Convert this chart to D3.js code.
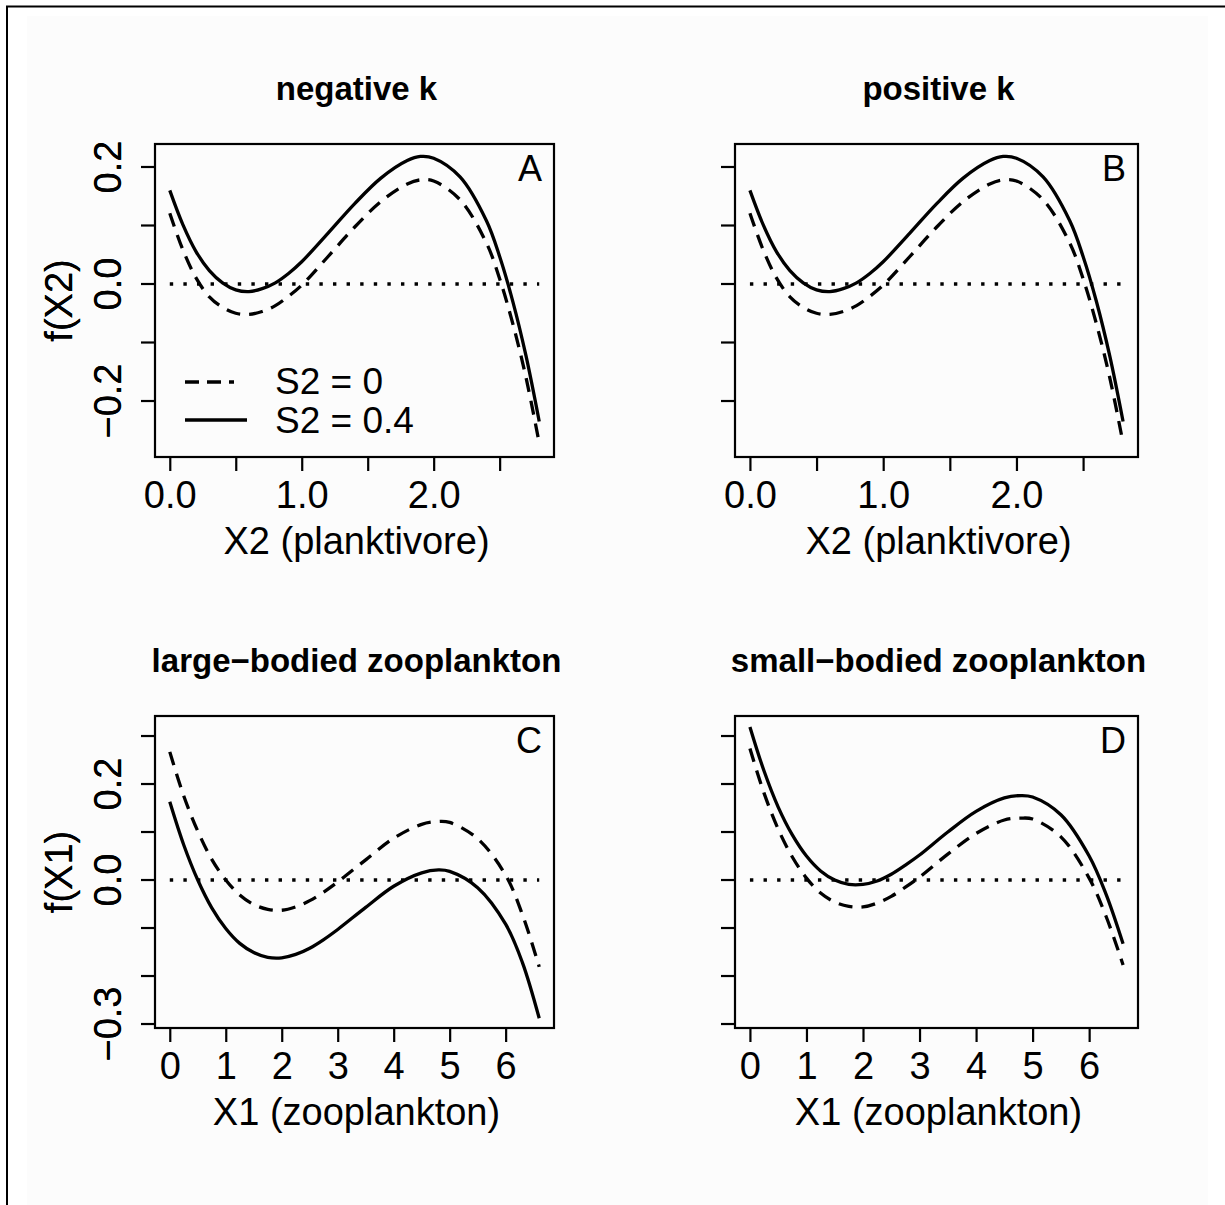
<!DOCTYPE html>
<html>
<meta charset="utf-8">
<style>
body { margin: 0; background: #fff; }
text { font-family: 'Liberation Sans', Arial, sans-serif; fill: #000; }
.title { font-weight: bold; font-size: 33px; }
.tick { font-size: 38px; }
.lab { font-size: 38px; }
.leg { font-size: 37px; }
</style>
<body>
<svg id="fig" width="1225" height="1205"></svg>
<script src="https://d3js.org/d3.v7.min.js"></script>
<script>

// ---- values ----
var xTop = [0, 0.1, 0.2, 0.3, 0.4, 0.5, 0.6, 0.7, 0.8, 0.9, 1.0, 1.2, 1.4, 1.6, 1.8, 1.9, 2.0, 2.2, 2.4, 2.5, 2.6, 2.7, 2.8];
var solidA  = [0.160, 0.101, 0.055, 0.023, 0.002, -0.010, -0.013, -0.008, 0.002, 0.018, 0.038, 0.087, 0.137, 0.181, 0.211, 0.218, 0.215, 0.183, 0.108, 0.047, -0.030, -0.123, -0.235];
var dashedA = [0.121, 0.058, 0.010, -0.022, -0.040, -0.050, -0.052, -0.047, -0.037, -0.021, -0.002, 0.047, 0.097, 0.141, 0.171, 0.178, 0.176, 0.144, 0.070, 0.009, -0.068, -0.160, -0.272];
var solidB  = [0.160, 0.101, 0.055, 0.023, 0.002, -0.010, -0.013, -0.008, 0.002, 0.018, 0.038, 0.087, 0.137, 0.181, 0.211, 0.218, 0.215, 0.183, 0.108, 0.047, -0.030, -0.123, -0.235];
var dashedB = [0.121, 0.058, 0.010, -0.022, -0.040, -0.050, -0.052, -0.047, -0.037, -0.021, -0.002, 0.047, 0.097, 0.141, 0.171, 0.178, 0.176, 0.144, 0.070, 0.009, -0.068, -0.160, -0.272];

var xBot = [0, 0.25, 0.5, 0.75, 1, 1.25, 1.5, 1.75, 2, 2.25, 2.5, 2.75, 3, 3.5, 4, 4.5, 4.8, 5, 5.5, 6, 6.3, 6.6];
var solidC  = [0.163, 0.073, 0.000, -0.058, -0.101, -0.132, -0.151, -0.161, -0.162, -0.155, -0.142, -0.124, -0.103, -0.057, -0.013, 0.015, 0.021, 0.018, -0.016, -0.092, -0.172, -0.288];
var dashedC = [0.267, 0.175, 0.102, 0.043, 0.000, -0.031, -0.051, -0.061, -0.063, -0.056, -0.043, -0.025, -0.004, 0.042, 0.087, 0.116, 0.122, 0.120, 0.086, 0.010, -0.072, -0.181];
var solidD  = [0.319, 0.227, 0.152, 0.094, 0.050, 0.019, 0.000, -0.009, -0.009, -0.002, 0.012, 0.031, 0.052, 0.100, 0.143, 0.171, 0.176, 0.173, 0.136, 0.050, -0.030, -0.133];
var dashedD = [0.274, 0.181, 0.106, 0.048, 0.004, -0.027, -0.046, -0.055, -0.056, -0.048, -0.034, -0.015, 0.006, 0.054, 0.097, 0.125, 0.129, 0.127, 0.090, 0.004, -0.076, -0.177];

var xTicksTop = [0, 0.5, 1, 1.5, 2, 2.5];
var xLabelsTop = ["0.0", "", "1.0", "", "2.0", ""];
var yTicksTop = [-0.2, -0.1, 0, 0.1, 0.2];
var yLabelsTop = ["\u22120.2", "", "0.0", "", "0.2"];
var xTicksBot = [0, 1, 2, 3, 4, 5, 6];
var xLabelsBot = ["0", "1", "2", "3", "4", "5", "6"];
var yTicksBot = [-0.3, -0.2, -0.1, 0, 0.1, 0.2, 0.3];
var yLabelsBot = ["\u22120.3", "", "", "0.0", "", "0.2", ""];

var titles = ["negative k", "positive k", "large\u2212bodied zooplankton", "small\u2212bodied zooplankton"];
var letters = ["A", "B", "C", "D"];
var legendLabels = ["S2 = 0", "S2 = 0.4"];

// ---- layout ----
var svg = d3.select("#fig");

svg.append("rect").attr("x", 27).attr("y", 16).attr("width", 1181).attr("height", 1189).attr("fill", "#fcfcfc");
svg.append("line").attr("x1", 6).attr("x2", 1225).attr("y1", 6.5).attr("y2", 6.5).attr("stroke", "#000").attr("stroke-width", 2);
svg.append("line").attr("x1", 7).attr("x2", 7).attr("y1", 6).attr("y2", 1205).attr("stroke", "#000").attr("stroke-width", 2);

var panels = [
  {left: 155, right: 554, top: 144, bottom: 457, xd: [-0.112, 2.912], yd: [-0.2957, 0.2393], xs: xTop, solid: solidA, dashed: dashedA,
   xt: xTicksTop, xl: xLabelsTop, yt: yTicksTop, yl: yLabelsTop, xlab: "X2 (planktivore)", ylab: "f(X2)", legend: true},
  {left: 735, right: 1138, top: 144, bottom: 457, xd: [-0.112, 2.912], yd: [-0.2957, 0.2393], xs: xTop, solid: solidB, dashed: dashedB,
   xt: xTicksTop, xl: xLabelsTop, yt: yTicksTop, yl: yLabelsTop, xlab: "X2 (planktivore)", ylab: "f(X2)"},
  {left: 155, right: 554, top: 716, bottom: 1028, xd: [-0.264, 6.864], yd: [-0.3083, 0.3417], xs: xBot, solid: solidC, dashed: dashedC,
   xt: xTicksBot, xl: xLabelsBot, yt: yTicksBot, yl: yLabelsBot, xlab: "X1 (zooplankton)", ylab: "f(X1)"},
  {left: 735, right: 1138, top: 716, bottom: 1028, xd: [-0.264, 6.864], yd: [-0.3083, 0.3417], xs: xBot, solid: solidD, dashed: dashedD,
   xt: xTicksBot, xl: xLabelsBot, yt: yTicksBot, yl: yLabelsBot, xlab: "X1 (zooplankton)", ylab: "f(X1)"}
];

panels.forEach(function(p, i) {
  var x = d3.scaleLinear().domain(p.xd).range([p.left, p.right]);
  var y = d3.scaleLinear().domain(p.yd).range([p.bottom, p.top]);
  var g = svg.append("g");

  // zero reference (dotted)
  g.append("line")
    .attr("x1", x(0)).attr("x2", x(p.xs[p.xs.length - 1]))
    .attr("y1", y(0)).attr("y2", y(0))
    .attr("stroke", "#000").attr("stroke-width", 3.4)
    .attr("stroke-dasharray", "3.4,10.2");

  var line = d3.line().curve(d3.curveCatmullRom.alpha(0.5))
    .x(function(d) { return x(d[0]); })
    .y(function(d) { return y(d[1]); });

  g.append("path")
    .datum(p.xs.map(function(v, k) { return [v, p.dashed[k]]; }))
    .attr("d", line).attr("fill", "none").attr("stroke", "#000")
    .attr("stroke-width", 3.3).attr("stroke-dasharray", "14,9");

  g.append("path")
    .datum(p.xs.map(function(v, k) { return [v, p.solid[k]]; }))
    .attr("d", line).attr("fill", "none").attr("stroke", "#000")
    .attr("stroke-width", 3.3);

  // box
  g.append("rect")
    .attr("x", p.left).attr("y", p.top)
    .attr("width", p.right - p.left).attr("height", p.bottom - p.top)
    .attr("fill", "none").attr("stroke", "#000").attr("stroke-width", 2.2);

  // x axis
  var xAxis = d3.axisBottom(x).tickValues(p.xt).tickSize(14).tickPadding(14)
    .tickFormat(function(d, k) { return p.xl[k]; });
  var gx = g.append("g").attr("transform", "translate(0," + p.bottom + ")").call(xAxis);
  gx.select(".domain").remove();
  gx.selectAll(".tick line").attr("stroke-width", 2.2);
  gx.selectAll(".tick text").attr("class", "tick").attr("font-family", null).attr("font-size", null)
    .attr("dy", null).attr("y", 51);

  // y axis (labels parallel to axis)
  var gy = g.append("g").attr("transform", "translate(" + p.left + ",0)");
  gy.selectAll("line.yt").data(p.yt).enter().append("line")
    .attr("x1", -14).attr("x2", 0)
    .attr("y1", function(d) { return y(d); }).attr("y2", function(d) { return y(d); })
    .attr("stroke", "#000").attr("stroke-width", 2.2);
  gy.selectAll("text.yl").data(p.yt).enter().append("text")
    .attr("class", "tick")
    .attr("text-anchor", "middle")
    .attr("transform", function(d) { return "translate(" + (121 - p.left) + "," + y(d) + ") rotate(-90)"; })
    .text(function(d, k) { return p.yl[k]; });

  // titles and labels
  var cx = (p.left + p.right) / 2;
  g.append("text").attr("class", "title").attr("x", cx + 2).attr("y", p.top - 44)
    .attr("text-anchor", "middle").text(titles[i]);
  g.append("text").attr("class", "lab").attr("x", cx + 2).attr("y", p.bottom + 97)
    .attr("text-anchor", "middle").text(p.xlab);
  g.append("text").attr("class", "lab").attr("text-anchor", "middle")
    .attr("transform", "translate(72," + ((p.top + p.bottom) / 2) + ") rotate(-90)")
    .text(p.ylab);
  g.append("text").attr("class", "lab").attr("x", p.right - 12).attr("y", p.top + 37)
    .attr("text-anchor", "end").style("font-size", "36px").text(letters[i]);

  if (p.legend) {
    g.append("line").attr("x1", 185).attr("x2", 234).attr("y1", 382).attr("y2", 382)
      .attr("stroke", "#000").attr("stroke-width", 3.3).attr("stroke-dasharray", "14,8");
    g.append("line").attr("x1", 185).attr("x2", 247).attr("y1", 420).attr("y2", 420)
      .attr("stroke", "#000").attr("stroke-width", 3.3);
    g.append("text").attr("class", "leg").attr("x", 275).attr("y", 394).text(legendLabels[0]);
    g.append("text").attr("class", "leg").attr("x", 275).attr("y", 433).text(legendLabels[1]);
  }
});

</script>
</body>
</html>
